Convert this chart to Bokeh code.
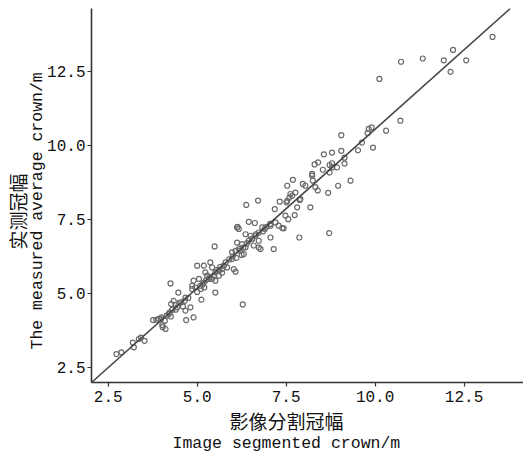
from bokeh.plotting import figure
from bokeh.models import Slope, Title, SingleIntervalTicker, PrintfTickFormatter
from bokeh.embed import file_html
from bokeh.resources import INLINE

# Image segmented crown (m)
seg_crown = [
    2.73, 2.87, 3.19, 3.22, 3.36, 3.42, 3.52, 3.76, 3.85, 3.92,
    4.02, 4.00, 4.09, 4.11, 4.03, 4.14, 4.20, 4.26, 4.23, 4.30,
    4.27, 4.34, 4.39, 4.44, 4.50, 4.60, 4.65, 4.67, 4.81, 4.69,
    4.90, 4.47, 4.67, 5.12, 4.86, 4.95, 4.25, 5.51, 6.28, 5.49,
    5.00, 5.19, 5.37, 5.42, 5.23, 5.05, 4.90, 4.86, 5.09, 5.19,
    5.33, 5.28, 5.47, 5.51, 5.61, 5.70, 5.75, 5.84, 5.61, 5.42,
    5.51, 6.03, 6.08, 5.98, 5.98, 6.08, 6.17, 6.12, 6.26, 6.36,
    6.31, 6.45, 6.54, 6.64, 6.73, 6.78, 6.59, 6.36, 6.12, 6.17,
    6.38, 6.71, 6.45, 6.62, 6.50, 6.73, 6.83, 6.90, 7.06, 7.15,
    6.73, 7.06, 7.20, 7.29, 7.43, 7.18, 7.32, 7.48, 7.56, 7.53,
    7.62, 7.59, 7.67, 7.53, 7.69, 7.76, 7.81, 7.74, 7.90, 7.97,
    8.04, 8.18, 7.87, 8.23, 8.25, 9.05, 8.79, 9.05, 9.14, 9.14,
    8.56, 8.40, 8.30, 8.53, 8.72, 8.79, 8.79, 8.93, 8.72, 8.23,
    8.96, 9.31, 9.52, 9.63, 8.32, 8.39, 8.68, 8.71, 9.82, 9.90,
    9.79, 9.94, 10.31, 10.71, 10.12, 10.73, 11.34, 11.93, 12.19, 12.12,
    12.56, 13.30, 6.14, 7.39, 7.51, 7.88,
    5.15, 5.25, 5.55, 5.65, 5.80, 5.90, 6.00, 6.20, 6.30, 6.40,
    6.55, 6.65, 6.85, 6.95, 7.05, 5.35, 5.70, 6.10, 6.25, 4.55,
    4.75, 4.40, 3.98, 5.00, 5.10, 5.20,
]

# Measured average crown (m)
measured_crown = [
    2.95, 3.01, 3.34, 3.18, 3.46, 3.51, 3.40, 4.10, 4.11, 4.14,
    3.93, 4.19, 4.08, 3.80, 3.86, 4.25, 4.30, 4.22, 4.36, 4.45,
    4.64, 4.75, 4.61, 4.53, 4.68, 4.56, 4.75, 4.42, 4.53, 4.10,
    4.19, 5.03, 4.86, 4.79, 5.15, 5.20, 5.34, 5.03, 4.63, 6.59,
    5.94, 5.94, 6.05, 5.88, 5.71, 5.49, 5.43, 5.26, 5.26, 5.37,
    5.49, 5.60, 5.60, 5.71, 5.77, 5.82, 5.94, 5.88, 5.60, 5.49,
    5.43, 5.82, 5.73, 6.16, 6.39, 6.44, 6.50, 6.72, 6.67, 6.56,
    6.33, 6.78, 6.84, 6.95, 6.78, 6.50, 6.62, 7.00, 7.23, 7.18,
    7.99, 8.14, 7.42, 7.38, 6.95, 7.06, 7.23, 7.18, 6.89, 6.50,
    6.55, 7.29, 7.40, 7.29, 7.20, 7.85, 8.10, 7.63, 7.51, 8.13,
    8.36, 8.24, 8.30, 8.64, 8.84, 8.41, 7.91, 7.65, 8.19, 8.70,
    8.64, 7.91, 6.89, 8.98, 8.81, 10.35, 9.76, 9.82, 9.59, 9.39,
    9.70, 9.43, 9.36, 9.18, 9.34, 9.40, 9.26, 9.26, 9.09, 9.04,
    8.64, 8.81, 9.84, 10.10, 8.59, 8.48, 8.40, 7.04, 10.56, 10.61,
    10.42, 9.93, 10.50, 10.84, 12.25, 12.83, 12.94, 12.88, 13.23, 12.49,
    12.88, 13.67, 7.25, 7.21, 8.08, 8.16,
    5.30, 5.45, 5.80, 5.90, 6.05, 6.15, 6.25, 6.45, 6.55, 6.70,
    6.85, 7.00, 7.10, 7.25, 7.35, 5.55, 5.70, 6.20, 6.30, 4.70,
    4.85, 4.45, 4.13, 5.05, 5.15, 5.20,
]

# fitted line y = slope * x + intercept
fit_slope = 1.074
fit_intercept = -0.19

y_title_cn = "实测冠幅"
y_title_en = "The measured average crown/m"
x_title_cn = "影像分割冠幅"
x_title_en = "Image segmented crown/m"

mono = "Liberation Mono"
cjk = "Noto Sans CJK SC"

p = figure(width=523, height=453, x_range=(2.03, 14.17), y_range=(1.99, 14.63),
           output_backend="svg", toolbar_location=None,
           min_border_left=91, min_border_right=0, min_border_top=8, min_border_bottom=71)
p.outline_line_color = None
p.xgrid.visible = False
p.ygrid.visible = False

for ax in (p.xaxis[0], p.yaxis[0]):
    ax.ticker = SingleIntervalTicker(interval=2.5)
    ax.formatter = PrintfTickFormatter(format="%.1f")
    ax.minor_tick_line_color = None
    ax.axis_line_color = "#333333"
    ax.axis_line_width = 1.6
    ax.major_tick_line_color = "#333333"
    ax.major_tick_line_width = 1.2
    ax.major_tick_out = 4
    ax.major_tick_in = 0
    ax.major_label_text_font = mono
    ax.major_label_text_font_size = "16px"
    ax.major_label_text_color = "#111111"
    ax.axis_label = None
p.xaxis[0].major_label_standoff = 4
p.yaxis[0].major_label_standoff = 2

p.add_layout(Slope(gradient=fit_slope, y_intercept=fit_intercept,
                   line_color="#444444", line_width=1.5))

p.scatter(seg_crown, measured_crown, marker="circle", size=5,
          fill_color=None, line_color="#6a6a6a", line_width=1.2)

# axis titles (closest to the axis first)
p.add_layout(Title(text=x_title_cn, align="left", offset=138, standoff=0,
                   text_font=cjk, text_font_size="19px", text_font_style="normal",
                   text_color="#111111"), "below")
p.add_layout(Title(text=x_title_en, align="left", offset=81, standoff=-3,
                   text_font=mono, text_font_size="16.5px", text_font_style="normal",
                   text_color="#111111"), "below")
p.add_layout(Title(text=y_title_en, align="left", offset=33, standoff=-5,
                   text_font=mono, text_font_size="16.5px", text_font_style="normal",
                   text_color="#111111"), "left")
p.add_layout(Title(text=y_title_cn, align="left", offset=133, standoff=-5,
                   text_font=cjk, text_font_size="19px", text_font_style="normal",
                   text_color="#111111"), "left")

open("out.html", "w").write(file_html(p, INLINE))
